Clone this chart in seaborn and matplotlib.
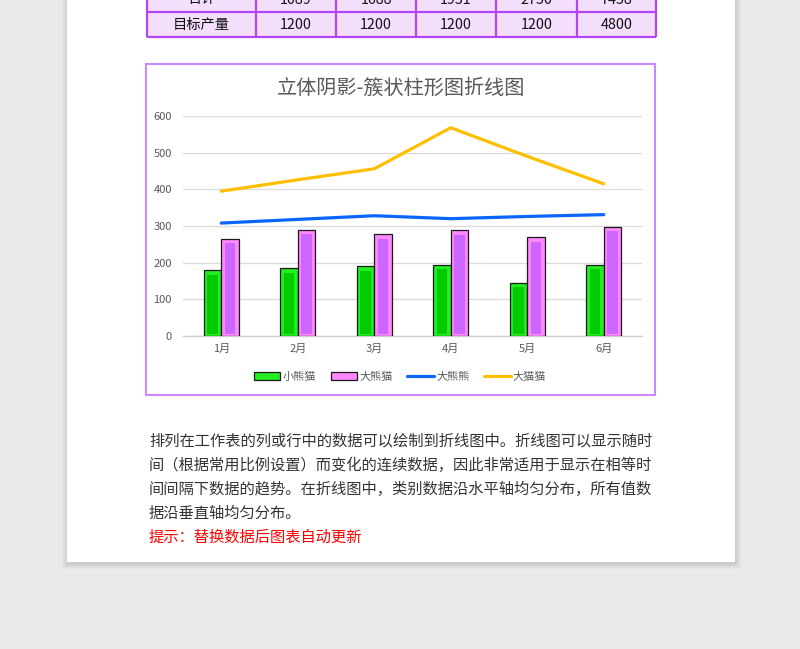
import numpy as np
import pandas as pd
import matplotlib
matplotlib.use("Agg")
import matplotlib.pyplot as plt
from matplotlib.patches import Rectangle, Patch
from matplotlib.lines import Line2D
import seaborn as sns

# ---------------- data ----------------
months = ["1月", "2月", "3月", "4月", "5月", "6月"]
small_panda = [180, 185, 190, 195, 145, 194]      # 小熊猫 (bars)
big_panda = [265, 290, 277, 288, 270, 298]        # 大熊猫 (bars)
big_bear = [308, 318, 328, 320, 326, 331]         # 大熊熊 (line)
big_cat = [395, 426, 456, 568, 490, 415]          # 大猫猫 (line)
series_names = ["小熊猫", "大熊猫", "大熊熊", "大猫猫"]
y_ticks = [0, 100, 200, 300, 400, 500, 600]

table_header = ["合计", "目标产量"]
table_total = ["1089", "1688", "1931", "2750", "7458"]
table_target = ["1200", "1200", "1200", "1200", "4800"]

title = "立体阴影-簇状柱形图折线图"
para_lines = [
    "排列在工作表的列或行中的数据可以绘制到折线图中。折线图可以显示随时",
    "间（根据常用比例设置）而变化的连续数据，因此非常适用于显示在相等时",
    "间间隔下数据的趋势。在折线图中，类别数据沿水平轴均匀分布，所有值数",
    "据沿垂直轴均匀分布。",
]
tip = "提示：替换数据后图表自动更新"

# ---------------- style ----------------
sns.set_theme(style="white")
plt.rcParams["font.family"] = ["Noto Sans CJK SC", "DejaVu Sans"]

W, H = 800, 649
fig = plt.figure(figsize=(W / 100, H / 100), dpi=100)
fig.patch.set_facecolor("#e9e9e9")

# background / page axes in pixel coordinates
bg = fig.add_axes([0, 0, 1, 1])
bg.set_xlim(0, W)
bg.set_ylim(H, 0)
bg.axis("off")
bg.set_zorder(0)

# soft page shadow
for off in range(1, 7):
    bg.add_patch(Rectangle((67 - off + 1, -10), 668 + 2 * off - 1, 572 + off + 1,
                           facecolor="#000000", alpha=0.018, edgecolor="none"))
bg.add_patch(Rectangle((67, -10), 668, 572, facecolor="white", edgecolor="none"))

# table (partially cut at top)
col_edges = [147, 256, 336, 416, 496, 577, 656]
row_edges = [-14, 12, 37]
tcolor = "#b544f5"
bg.add_patch(Rectangle((col_edges[0], row_edges[0]), col_edges[-1] - col_edges[0],
                       row_edges[-1] - row_edges[0], facecolor="#f3defc", edgecolor="none"))
for xe in col_edges:
    bg.plot([xe, xe], [row_edges[0], row_edges[-1]], color=tcolor, lw=1.6, solid_capstyle="butt")
for ye in row_edges:
    bg.plot([col_edges[0], col_edges[-1]], [ye, ye], color=tcolor, lw=1.6, solid_capstyle="butt")
rows = [[table_header[0]] + table_total, [table_header[1]] + table_target]
for r, row in enumerate(rows):
    yc = (row_edges[r] + row_edges[r + 1]) / 2 + 0.5
    for c, txt in enumerate(row):
        xc = (col_edges[c] + col_edges[c + 1]) / 2
        bg.text(xc, yc, txt, ha="center", va="center", fontsize=10.3, color="#111111")

# chart box
bg.add_patch(Rectangle((146, 64), 509, 331, facecolor="white", edgecolor="#cc88ff", lw=1.5))
bg.text(401, 88, title, ha="center", va="center", fontsize=14.5, color="#595959")

# paragraph
for i, line in enumerate(para_lines):
    bg.text(149, 441 + 24 * i, line, ha="left", va="center", fontsize=11.0, color="#333333")
bg.text(149, 537, tip, ha="left", va="center", fontsize=11.0, color="#ff0000")

# ---------------- chart ----------------
ax = fig.add_axes([183 / W, 1 - 336 / H, 459 / W, 220 / H])
ax.set_zorder(2)
ax.patch.set_alpha(0)

df = pd.DataFrame({
    "月份": months * 2,
    "值": small_panda + big_panda,
    "系列": [series_names[0]] * len(months) + [series_names[1]] * len(months),
})
outer_colors = ["#22ee22", "#ff88ff"]
inner_colors = ["#00cc00", "#cc66ff"]
sns.barplot(data=df, x="月份", y="值", hue="系列", order=months,
            hue_order=series_names[:2], palette=outer_colors, width=0.46,
            edgecolor="#1a1a1a", linewidth=0.9, saturation=1, legend=False, ax=ax, zorder=3)

# inner darker faces for the 3D look
px_x = 6 / 459.0          # data units per pixel (x)
px_y = 600 / 220.0        # data units per pixel (y)
bars = [p for p in ax.patches if isinstance(p, Rectangle)]
for k, p in enumerate(bars):
    s = 0 if k < len(months) else 1
    x0, w, h = p.get_x(), p.get_width(), p.get_height()
    ax.add_patch(Rectangle((x0 + 3.5 * px_x, 2.5 * px_y), w - 7 * px_x, h - 7 * px_y,
                           facecolor=inner_colors[s], edgecolor="none", zorder=4))

xpos = np.arange(len(months))
line_df = pd.DataFrame({"x": np.concatenate([xpos, xpos]),
                        "值": big_bear + big_cat,
                        "系列": [series_names[2]] * len(months) + [series_names[3]] * len(months)})
sns.lineplot(data=line_df, x="x", y="值", hue="系列", hue_order=series_names[2:],
             palette=["#0a66ff", "#ffbf00"], linewidth=2.3, legend=False, ax=ax,
             zorder=5, solid_capstyle="round")

ax.set_xlim(-0.5, len(months) - 0.5)
ax.set_ylim(0, 600)
ax.set_yticks(y_ticks)
ax.set_xticks(xpos)
ax.set_xticklabels(months)
ax.set_xlabel("")
ax.set_ylabel("")
ax.grid(axis="y", color="#dcdcdc", lw=1)
ax.grid(axis="x", visible=False)
ax.set_axisbelow(True)
for side in ["left", "right", "top"]:
    ax.spines[side].set_visible(False)
ax.spines["bottom"].set_color("#cfcfcf")
ax.spines["bottom"].set_linewidth(1)
ax.tick_params(axis="y", length=0, pad=8, labelsize=8, labelcolor="#595959")
ax.tick_params(axis="x", length=0, pad=6, labelsize=8, labelcolor="#595959")

# legend
handles = [
    Patch(facecolor=outer_colors[0], edgecolor="#1a1a1a", lw=0.9),
    Patch(facecolor=outer_colors[1], edgecolor="#1a1a1a", lw=0.9),
    Line2D([0], [0], color="#0a66ff", lw=2.3),
    Line2D([0], [0], color="#ffbf00", lw=2.3),
]
leg = fig.legend(handles, series_names, loc="center", bbox_to_anchor=(400 / W, 1 - 377 / H),
                 ncol=4, frameon=False, fontsize=8, handlelength=2.4, handleheight=0.7,
                 handletextpad=0.2, columnspacing=1.3, labelcolor="#595959")

fig.savefig("out.png", dpi=100, facecolor=fig.get_facecolor())
